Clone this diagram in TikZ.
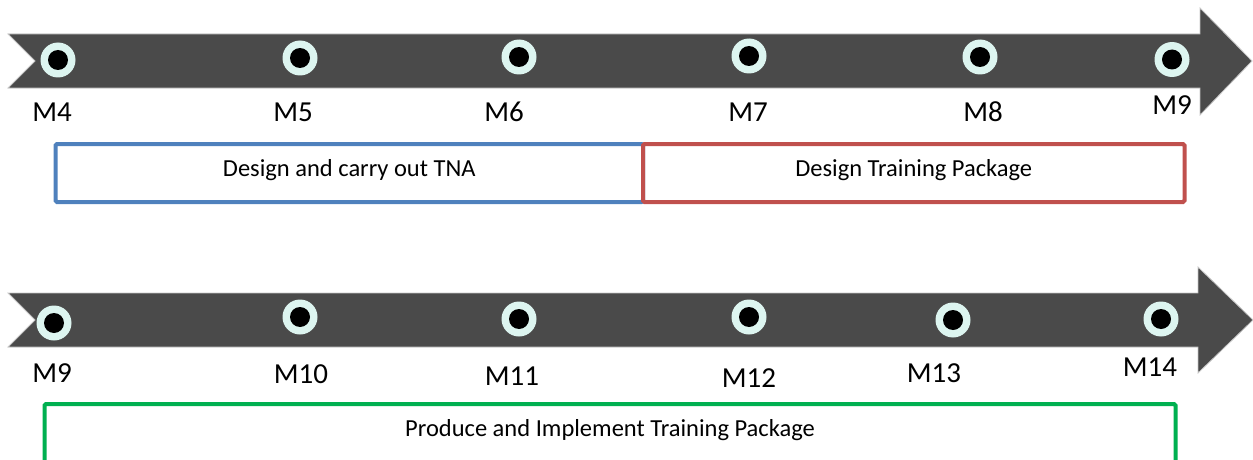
\documentclass[tikz,border=0pt]{standalone}
\usepackage{fontspec}
\setmainfont{Carlito}
\definecolor{bandgray}{HTML}{4A4A4A}
\definecolor{ringmint}{HTML}{DDF5F0}
\definecolor{tnablue}{HTML}{4F81BD}
\definecolor{pkgred}{HTML}{C0504D}
\definecolor{implgreen}{HTML}{00B050}

\begin{document}
\begin{tikzpicture}[x=1pt,y=-1pt,
  timeband/.style={fill=bandgray, draw=gray!45, line width=0.8pt, line join=miter},
  milestone/.style={circle, fill=ringmint, minimum size=35pt, inner sep=0pt,
    path picture={\fill[black] (path picture bounding box.center) circle (10pt);}},
  mlabel/.style={inner sep=0pt, font=\fontsize{29}{29}\selectfont},
  phase/.style={draw, line width=4pt, rounded corners=1.5pt, inner sep=0pt,
    text height=16pt, text depth=10pt, font=\fontsize{24.5}{24.5}\selectfont}
]
\useasboundingbox (0,0) rectangle (1253,460);
\clip (0,0) rectangle (1253,460);

% upper timeline arrow
\path[timeband] (8,34) -- (1200,34) -- (1200,8) -- (1252,61) -- (1200,115)
  -- (1200,88) -- (8,88) -- (35,61) -- cycle;
% lower timeline arrow
\path[timeband] (8,293) -- (1198,293) -- (1198,267) -- (1253,320) -- (1198,373)
  -- (1198,347) -- (8,347) -- (35,320) -- cycle;

% upper milestones
\node[milestone] (a4) at (58,60) {};
\node[milestone] (a5) at (300,58) {};
\node[milestone] (a6) at (519,57) {};
\node[milestone] (a7) at (749,56) {};
\node[milestone] (a8) at (980,57) {};
\node[milestone] (a9) at (1172,59.5) {};

\node[mlabel] (la4) at (52,112) {M4};
\node[mlabel] (la5) at (293,112) {M5};
\node[mlabel] (la6) at (504,112) {M6};
\node[mlabel] (la7) at (748,112) {M7};
\node[mlabel] (la8) at (983,112) {M8};
\node[mlabel] (la9) at (1172,105) {M9};

% lower milestones
\node[milestone] (b9) at (54,323) {};
\node[milestone] (b10) at (300,317) {};
\node[milestone] (b11) at (519,319) {};
\node[milestone] (b12) at (749,317) {};
\node[milestone] (b13) at (953,320) {};
\node[milestone] (b14) at (1161,319) {};

\node[mlabel] (lb9) at (52,373) {M9};
\node[mlabel] (lb10) at (301,374) {M10};
\node[mlabel] (lb11) at (512,376) {M11};
\node[mlabel] (lb12) at (749,378) {M12};
\node[mlabel] (lb13) at (934,373) {M13};
\node[mlabel] (lb14) at (1150,367) {M14};

% phases
\node[phase, draw=tnablue, minimum width=587.5pt, minimum height=58pt]
  (tna) at (349.25,173) {Design and carry out TNA};
\node[phase, draw=pkgred, minimum width=541.5pt, minimum height=58pt]
  (design) at (913.75,173) {Design Training Package};
\node[phase, draw=implgreen, minimum width=1131pt, minimum height=66pt,
  text depth=18pt] (produce) at (610,437) {Produce and Implement Training Package};
\end{tikzpicture}
\end{document}
